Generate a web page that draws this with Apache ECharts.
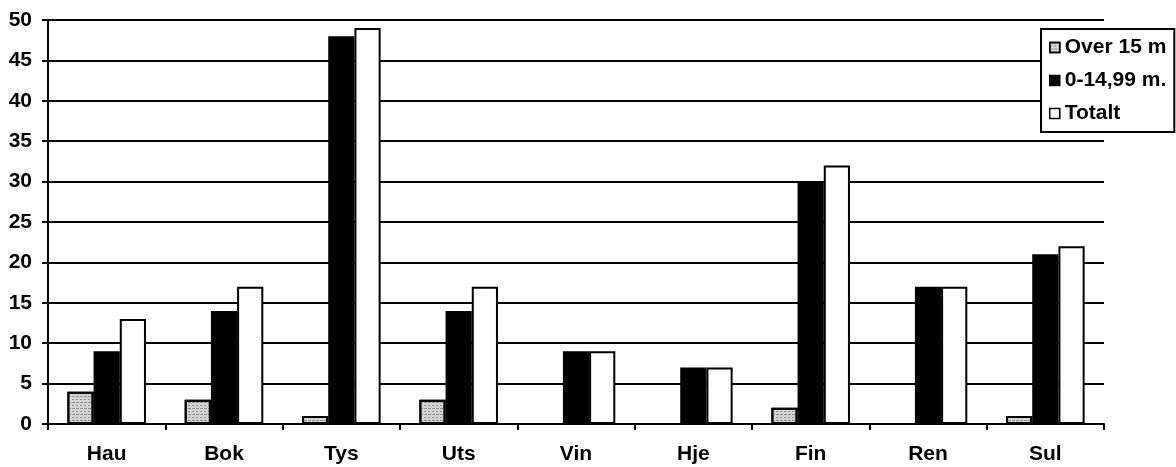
<!DOCTYPE html>
<html><head><meta charset="utf-8">
<script src="https://cdn.jsdelivr.net/npm/echarts@6/dist/echarts.min.js"></script>
<style>html,body{margin:0;padding:0;background:#fff}#c{width:1176px;height:467px}</style>
</head><body><div id="c"></div>
<script>
const categories = ['Hau','Bok','Tys','Uts','Vin','Hje','Fin','Ren','Sul'];
const over15 = [4,3,1,3,0,0,2,0,1];
const under15 = [9,14,48,14,9,7,30,17,21];
const totalt = [13,17,49,17,9,7,32,17,22];
const seriesNames = ['Over 15 m','0-14,99 m.','Totalt'];
const yTicks = {min:0,max:50,interval:5};

const font = 'Liberation Sans, Arial, sans-serif';
const chart = echarts.init(document.getElementById('c'));
const mk = (name, data, color, decal) => ({
  name, type:'bar', data, barGap:'0%', barCategoryGap:'33%',
  itemStyle:{color, borderColor:'#000', borderWidth:2, decal},
  emphasis:{disabled:true}
});
chart.setOption({
  animation:false,
  grid:{left:48,right:72,top:20,bottom:43},
  legend:{
    left:1041, top:29, orient:'vertical', itemGap:12, itemWidth:10, itemHeight:10,
    padding:[8,8,8,8], borderColor:'#000', borderWidth:2, backgroundColor:'#fff',
    textStyle:{fontFamily:font,fontWeight:'bold',fontSize:21,color:'#000'},
    icon:'rect', itemStyle:{borderColor:'#000',borderWidth:1.5}
  },
  xAxis:{
    type:'category', data:categories,
    axisLine:{lineStyle:{color:'#000',width:2}},
    axisTick:{show:true,alignWithLabel:false,length:6,lineStyle:{color:'#000',width:2}},
    axisLabel:{fontFamily:font,fontWeight:'bold',fontSize:21,color:'#000',margin:20}
  },
  yAxis:{
    type:'value', min:yTicks.min, max:yTicks.max, interval:yTicks.interval,
    axisLine:{show:true,lineStyle:{color:'#000',width:2}},
    axisTick:{show:true,length:6,lineStyle:{color:'#000',width:2}},
    axisLabel:{fontFamily:font,fontWeight:'bold',fontSize:21,color:'#000',margin:16},
    splitLine:{lineStyle:{color:'#000',width:2}}
  },
  series:[
    mk(seriesNames[0], over15, '#d4d4d4', {symbol:'rect',symbolSize:1,color:'rgba(80,80,80,0.5)',dashArrayX:[[2,2],[3,1]],dashArrayY:[1,2],rotation:0}),
    mk(seriesNames[1], under15, '#000'),
    mk(seriesNames[2], totalt, '#fff')
  ]
});
</script></body></html>
